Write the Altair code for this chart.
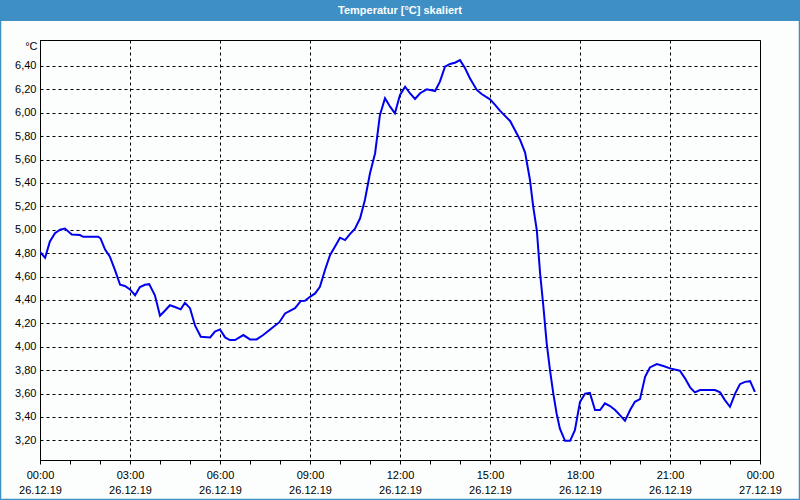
import altair as alt
import pandas as pd

title_text = ["Temperatur [°C] skaliert"]

# time in hours since 26.12.19 00:00
hours = [0.0, 0.17, 0.33, 0.5, 0.67, 0.83, 1.06, 1.33, 1.44, 1.94, 2.02, 2.17, 2.33, 2.5, 2.67, 2.83,
         3.0, 3.17, 3.33, 3.5, 3.64, 3.83, 4.0, 4.17, 4.33, 4.5, 4.69, 4.83, 5.0, 5.17, 5.36, 5.67,
         5.83, 6.0, 6.17, 6.33, 6.5, 6.78, 7.0, 7.22, 7.44, 7.67, 7.98, 8.17, 8.5, 8.69, 8.83, 9.0,
         9.17, 9.33, 9.5, 9.67, 9.83, 10.0, 10.17, 10.33, 10.5, 10.67, 10.83, 11.0, 11.17, 11.33,
         11.5, 11.67, 11.83, 12.0, 12.17, 12.33, 12.5, 12.67, 12.89, 13.17, 13.33, 13.5, 13.67,
         13.83, 14.0, 14.17, 14.33, 14.56, 14.72, 15.0, 15.17, 15.33, 15.67, 15.83, 16.0, 16.17,
         16.33, 16.44, 16.56, 16.67, 16.78, 16.89, 17.0, 17.11, 17.22, 17.33, 17.5, 17.67, 17.83,
         18.0, 18.17, 18.33, 18.5, 18.67, 18.83, 19.0, 19.17, 19.33, 19.5, 19.67, 19.83, 20.0,
         20.17, 20.33, 20.56, 20.78, 21.0, 21.33, 21.5, 21.67, 21.83, 22.0, 22.5, 22.67, 22.83,
         23.0, 23.17, 23.33, 23.5, 23.67, 23.83]

temps = [4.81, 4.76, 4.90, 4.97, 5.00, 5.01, 4.96, 4.955, 4.94, 4.94, 4.925, 4.83, 4.77, 4.655, 4.53, 4.52,
         4.49, 4.44, 4.51, 4.53, 4.535, 4.44, 4.265, 4.31, 4.355, 4.34, 4.32, 4.375, 4.33, 4.18, 4.085, 4.08,
         4.13, 4.148, 4.08, 4.057, 4.057, 4.10, 4.063, 4.063, 4.10, 4.148, 4.21, 4.285, 4.33, 4.39, 4.393, 4.427,
         4.456, 4.513, 4.656, 4.784, 4.855, 4.932, 4.912, 4.963, 5.01, 5.098, 5.254, 5.483, 5.654, 5.98,
         6.124, 6.052, 5.996, 6.152, 6.223, 6.167, 6.118, 6.167, 6.20, 6.186, 6.266, 6.394, 6.417,
         6.428, 6.45, 6.38, 6.295, 6.195, 6.16, 6.115, 6.067, 6.018, 5.93, 5.853, 5.77, 5.66,
         5.43, 5.197, 4.998, 4.627, 4.342, 4.029, 3.80, 3.60, 3.43, 3.30, 3.196, 3.196, 3.287,
         3.529, 3.60, 3.606, 3.459, 3.459, 3.516, 3.493, 3.459, 3.416, 3.367, 3.459, 3.529, 3.552,
         3.743, 3.823, 3.852, 3.835, 3.815, 3.795, 3.73, 3.653, 3.61, 3.63, 3.63, 3.61, 3.544,
         3.487, 3.60, 3.68, 3.70, 3.706, 3.615]

x_ticks = list(range(0, 25))
y_ticks = [3.2, 3.4, 3.6, 3.8, 4.0, 4.2, 4.4, 4.6, 4.8, 5.0, 5.2, 5.4, 5.6, 5.8, 6.0, 6.2, 6.4]

FONT = "Liberation Sans"
BAR = "#3d8fc4"

df = pd.DataFrame({"h": hours, "t": temps})
df_title = pd.DataFrame({"title": title_text})

x_scale = alt.Scale(domain=[0, 24], nice=False, zero=False)
y_scale = alt.Scale(domain=[3.032, 6.622], nice=False, zero=False)

x_axis = alt.Axis(
    values=x_ticks, title=None,
    grid=True, gridColor="black", gridDash=[3, 3], gridWidth=1,
    gridOpacity={"condition": {"test": "datum.value % 3 === 0", "value": 1}, "value": 0},
    labelExpr="datum.value % 3 === 0 ? [(datum.value % 24 < 10 ? '0' : '') + (datum.value % 24) + ':00', datum.value < 24 ? '26.12.19' : '27.12.19'] : ''",
    tickSize=4, tickColor="black", domainColor="black",
    labelFont=FONT, labelFontSize=11, labelColor="black", labelLineHeight=15,
    labelPadding=5, labelFlush=False, labelOverlap=False,
)

y_axis = alt.Axis(
    values=y_ticks, title="°C",
    grid=True, gridColor="black", gridDash=[3, 3], gridWidth=1,
    labelExpr="replace(format(datum.value, '.2f'), '.', ',')",
    ticks=False, domainColor="black",
    labelFont=FONT, labelFontSize=11, labelColor="black", labelPadding=4,
    titleAngle=0, titleAlign="right", titleBaseline="middle", titleX=-3, titleY=6,
    titleFont=FONT, titleFontSize=11, titleFontWeight="normal", titleColor="black",
)

line = alt.Chart(df).mark_line(color="#0000ee", strokeWidth=2, clip=True).encode(
    x=alt.X("h:Q", scale=x_scale, axis=x_axis),
    y=alt.Y("t:Q", scale=y_scale, axis=y_axis),
)

bar = alt.Chart(df_title).mark_rect(color=BAR).encode(
    x=alt.value(-40), x2=alt.value(760), y=alt.value(-40), y2=alt.value(-19),
)

title = alt.Chart(df_title).mark_text(
    color="white", font=FONT, fontSize=11, fontWeight="bold", align="center", baseline="middle"
).encode(
    x=alt.value(360), y=alt.value(-29.5), text="title:N",
)

frame = alt.Chart(df_title).mark_rect(filled=False, stroke=BAR, strokeWidth=1.5).encode(
    x=alt.value(-39.5), x2=alt.value(759.5), y=alt.value(-40), y2=alt.value(459.5),
)

chart = alt.layer(line, bar, title, frame).properties(
    width=720, height=420,
    autosize=alt.AutoSizeParams(type="none"),
    padding={"left": 40, "top": 40, "right": 40, "bottom": 40},
    background="#fcfefe",
).configure_view(stroke="black", strokeWidth=1)

chart.save("out.html", embed_options={"renderer": "svg", "actions": False})
